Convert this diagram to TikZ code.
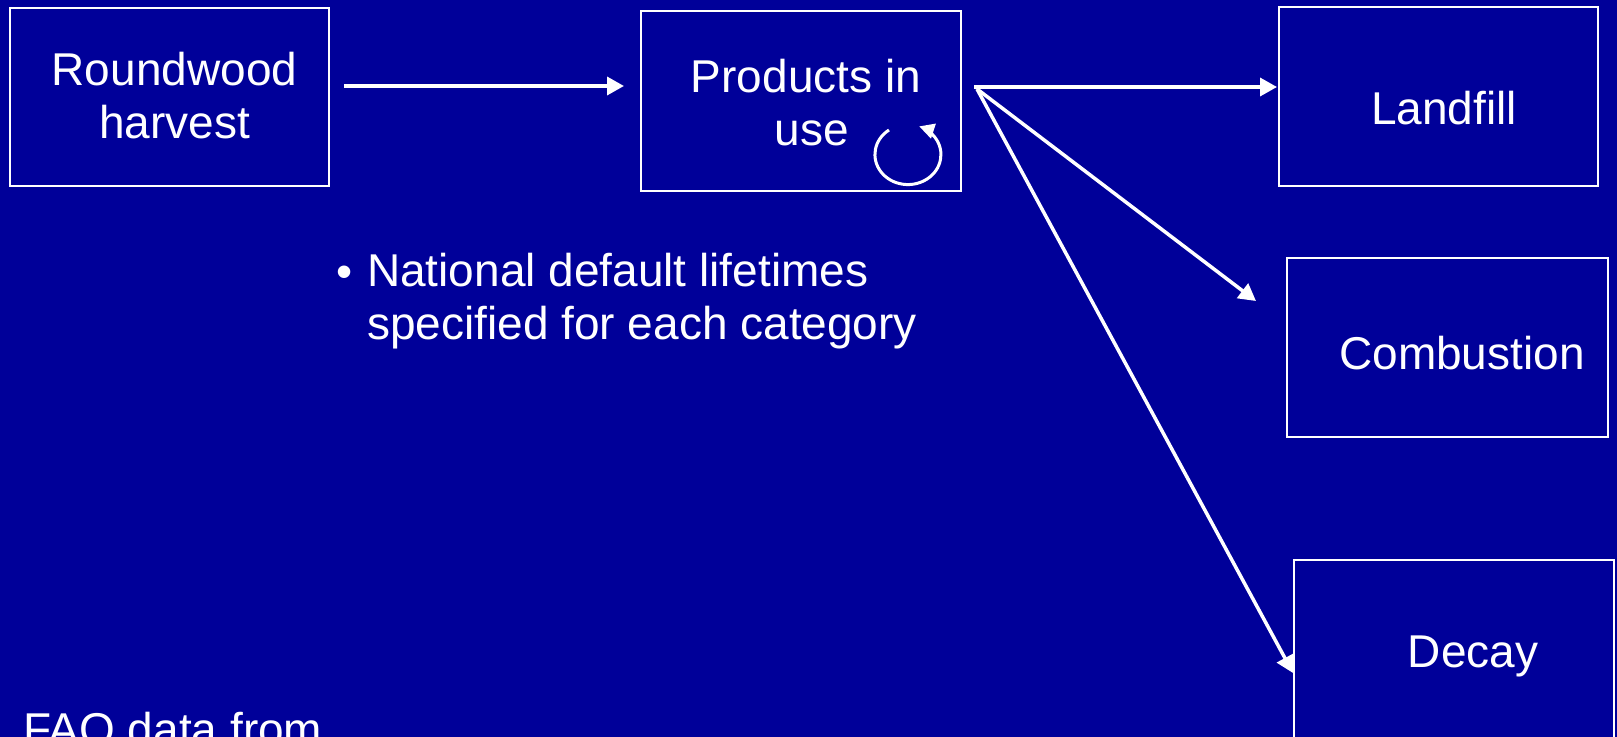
\documentclass[tikz,border=0pt]{standalone}
\usepackage{fontspec}
\setmainfont{Liberation Sans}
\usetikzlibrary{arrows.meta}
\definecolor{bgblue}{RGB}{0,0,153}
\tikzset{
  box/.style={draw=white, line width=2bp, minimum width=319bp, minimum height=178bp, inner sep=0pt},
  arr/.style={draw=white, line width=3.5bp, -{Triangle[length=17bp,width=18bp]}},
  txt/.style={text=white, font=\fontsize{46bp}{53bp}\selectfont, inner sep=0pt, align=center}
}
\begin{document}
\begin{tikzpicture}[x=1bp,y=-1bp]
\fill[bgblue] (0,0) rectangle (1617,737);
\useasboundingbox (0,0) rectangle (1617,737);
\clip (0,0) rectangle (1617,737);
\node[box, label={[txt, xshift=5bp, yshift=1bp]center:Roundwood\\harvest}] (rw) at (169.5,97) {};
\node[box, minimum width=320bp, minimum height=180bp, label={[txt, xshift=5bp, yshift=-2bp]center:Products in\\\hspace*{12bp}use}] (pu) at (801,101) {};
\node[box, label={[txt, xshift=5.5bp, yshift=-11.5bp]center:Landfill}] (lf) at (1438.5,96.5) {};
\node[box, minimum width=321bp, minimum height=179bp, label={[txt, xshift=14.5bp, yshift=-6bp]center:Combustion}] (cb) at (1447.5,347.5) {};
\node[box, minimum width=320bp, minimum height=180bp, label={[txt, xshift=19bp, yshift=-6bp]center:Decay}] (dc) at (1454,650) {};
% connectors
\coordinate (a1) at (344,86);
\draw[arr] (a1) -- ([xshift=-16bp]pu.west |- a1);
\coordinate (src) at (974,87);
\draw[arr] (src) -- ([xshift=-1bp]lf.west |- src);
\coordinate (cbtip) at (1256,301);
\draw[arr] (977,89) -- (cbtip);
\coordinate (dctip) at (1293,673);
\draw[arr] (977,89) -- (dctip);
% loop
\draw[draw=white, line width=3bp, -{Triangle[length=15bp,width=15bp]}] (889,130) arc[start angle=-125, end angle=-430, x radius=33, y radius=30];
% bullet text
\node[txt, anchor=base west] (b0) at (336,287) {•};
\node[txt, anchor=base west, align=left] (bt) at (367,339) {National default lifetimes\\specified for each category};
\node[txt, anchor=base west] (fao) at (23,745) {FAO data from};
\end{tikzpicture}
\end{document}
